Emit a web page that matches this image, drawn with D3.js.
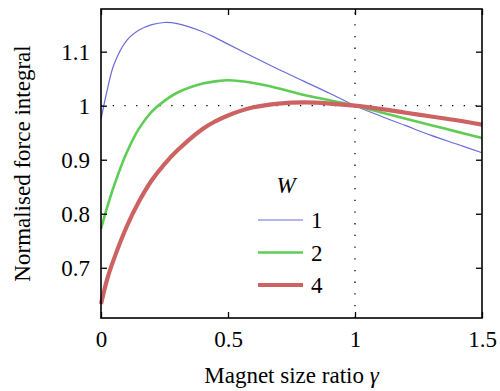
<!DOCTYPE html>
<html>
<head>
<meta charset="utf-8">
<script src="https://cdn.jsdelivr.net/npm/d3@7"></script>
<style>
  body { margin: 0; background: #fff; }
  svg text { font-family: "Liberation Serif", "Times New Roman", Tinos !important; }
</style>
</head>
<body>
<script>
// magnet size ratio samples
const gamma = [0, 0.025, 0.05, 0.1, 0.15, 0.2, 0.25, 0.3, 0.4, 0.45, 0.5, 0.6, 0.7, 0.8, 0.9, 1.0, 1.1, 1.2, 1.3, 1.4, 1.5];

// normalised force integral for each W
const w1 = [0.975, 1.030, 1.075, 1.120, 1.140, 1.150, 1.154, 1.152, 1.137, 1.126, 1.114, 1.090, 1.067, 1.045, 1.023, 1.000, 0.981, 0.963, 0.945, 0.929, 0.913];
const w2 = [0.772, 0.813, 0.850, 0.912, 0.958, 0.989, 1.009, 1.024, 1.041, 1.045, 1.047, 1.042, 1.032, 1.020, 1.010, 1.000, 0.988, 0.976, 0.964, 0.952, 0.940];
const w4 = [0.633, 0.680, 0.715, 0.775, 0.823, 0.862, 0.892, 0.917, 0.957, 0.971, 0.982, 0.997, 1.004, 1.006, 1.004, 1.000, 0.994, 0.987, 0.980, 0.973, 0.965];

const seriesNames = ['1', '2', '4'];
const xTicks = [0, 0.5, 1, 1.5];
const yTicks = [0.7, 0.8, 0.9, 1, 1.1];

const fs = 23;

const width = 500, height = 391;
const margin = { top: 9, right: 18, bottom: 73, left: 101 };

const svg = d3.select('body').append('svg')
  .attr('width', width)
  .attr('height', height);

const x = d3.scaleLinear().domain([0, 1.5]).range([margin.left, width - margin.right]);
const y = d3.scaleLinear().domain([0.607, 1.179]).range([height - margin.bottom, margin.top]);

const fmt = d => String(d);

// reference lines at 1
svg.append('line')
  .attr('x1', x(0)).attr('x2', x(1.5))
  .attr('y1', y(1)).attr('y2', y(1))
  .attr('stroke', '#000').attr('stroke-width', 1.3)
  .attr('stroke-dasharray', '1.3,10.4');
svg.append('line')
  .attr('x1', x(1)).attr('x2', x(1))
  .attr('y1', y.range()[0]).attr('y2', y.range()[1])
  .attr('stroke', '#000').attr('stroke-width', 1.3)
  .attr('stroke-dasharray', '1.3,10.4');

// curves
const series = [
  { name: seriesNames[0], values: w1, color: '#6b6bd9', w: 1.2 },
  { name: seriesNames[1], values: w2, color: '#5fcc55', w: 2.6 },
  { name: seriesNames[2], values: w4, color: '#cc6262', w: 4.2 }
];

const line = d3.line()
  .x((d, i) => x(gamma[i]))
  .y(d => y(d))
  .curve(d3.curveCatmullRom.alpha(0.5));

svg.append('g')
  .selectAll('path')
  .data(series)
  .join('path')
  .attr('fill', 'none')
  .attr('stroke', d => d.color)
  .attr('stroke-width', d => d.w)
  .attr('d', d => line(d.values));

// axes with inward ticks on all sides
const tl = 6;
svg.append('g')
  .attr('transform', `translate(0,${y.range()[0]})`)
  .call(d3.axisBottom(x).tickValues(xTicks).tickSize(-tl).tickPadding(13).tickFormat(fmt))
  .call(g => g.select('.domain').remove())
  .call(g => g.selectAll('text').attr('dy', '0.71em'));

svg.append('g')
  .attr('transform', `translate(0,${y.range()[1]})`)
  .call(d3.axisTop(x).tickValues(xTicks).tickSize(-tl).tickFormat(''))
  .call(g => g.select('.domain').remove());

svg.append('g')
  .attr('transform', `translate(${x.range()[0]},0)`)
  .call(d3.axisLeft(y).tickValues(yTicks).tickSize(-tl).tickPadding(11).tickFormat(fmt))
  .call(g => g.select('.domain').remove());

svg.append('g')
  .attr('transform', `translate(${x.range()[1]},0)`)
  .call(d3.axisRight(y).tickValues(yTicks).tickSize(-tl).tickFormat(''))
  .call(g => g.select('.domain').remove());

svg.selectAll('.tick line').attr('stroke', '#000').attr('stroke-width', 1.3);

// frame
svg.append('rect')
  .attr('x', x.range()[0]).attr('y', y.range()[1])
  .attr('width', x.range()[1] - x.range()[0])
  .attr('height', y.range()[0] - y.range()[1])
  .attr('fill', 'none').attr('stroke', '#000').attr('stroke-width', 1.6);

// axis titles
const xt = svg.append('text')
  .attr('x', (x.range()[0] + x.range()[1]) / 2)
  .attr('y', 383)
  .attr('text-anchor', 'middle');
xt.append('tspan').text('Magnet size ratio ');
xt.append('tspan').attr('font-style', 'italic').text('γ');

svg.append('text')
  .attr('transform', `translate(30,${(y.range()[0] + y.range()[1]) / 2}) rotate(-90)`)
  .attr('text-anchor', 'middle')
  .text('Normalised force integral');

// legend
const lg = svg.append('g').attr('transform', 'translate(258,0)');
lg.append('text')
  .attr('x', 28).attr('y', 193)
  .attr('text-anchor', 'middle')
  .attr('font-style', 'italic')
  .text('W');

const rows = lg.selectAll('g.row')
  .data(series)
  .join('g')
  .attr('class', 'row')
  .attr('transform', (d, i) => `translate(0,${220 + i * 32.5})`);
rows.append('line')
  .attr('x1', 0).attr('x2', 45)
  .attr('stroke', d => d.color)
  .attr('stroke-width', d => d.w);
rows.append('text')
  .attr('x', 53).attr('y', 8)
  .text(d => d.name);

svg.selectAll('text')
  .style('font-family', '"Liberation Serif", "Times New Roman", Tinos', 'important')
  .attr('font-size', fs)
  .attr('fill', '#000');
</script>
</body>
</html>
